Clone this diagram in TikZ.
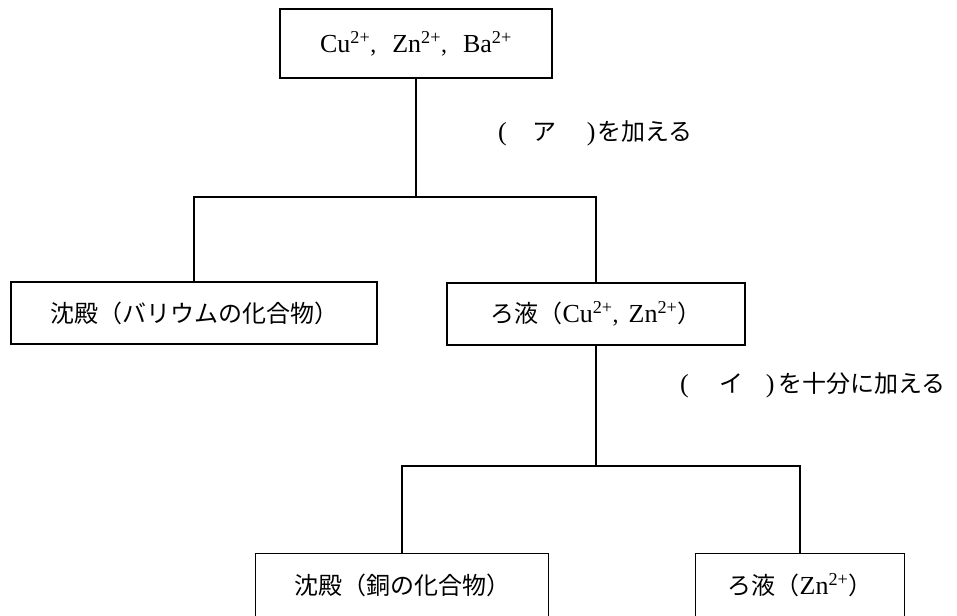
\documentclass[tikz,border=0pt]{standalone}
\usepackage{fontspec}
\setmainfont{Liberation Serif}
\newfontfamily\jpfont{Noto Sans CJK JP}
\newcommand\myjp[1]{{\jpfont #1}}
\newcommand\mylat[1]{{\fontsize{26}{30}\selectfont #1}}
\newcommand\ion[1]{\mylat{#1\textsuperscript{2+}}}
\begin{document}
\begin{tikzpicture}[x=1pt,y=-1pt,
  box/.style={draw, line width=1.3pt, inner sep=0pt, font=\fontsize{24}{30}\selectfont},
  openbox/.style={inner sep=0pt, font=\fontsize{24}{30}\selectfont},
  lbl/.style={anchor=west, inner sep=0pt, font=\fontsize{24}{30}\selectfont},
  conn/.style={line width=1.3pt}]
\useasboundingbox (0,0) rectangle (957,615);
\clip (0,0) rectangle (957,615);
\node[box, minimum width=272pt, minimum height=69pt] (top) at (416,43.5)
  {\ion{Cu},\hspace{16pt}\ion{Zn},\hspace{16pt}\ion{Ba}};
\node[box, minimum width=366pt, minimum height=62pt] (left) at (194,313)
  {\myjp{沈殿（バリウムの化合物）}};
\node[box, minimum width=298pt, minimum height=62pt] (right) at (596,314)
  {\myjp{ろ液（}\ion{Cu},\hspace{10pt}\ion{Zn}\myjp{）}};
\node[openbox, minimum width=292pt, minimum height=62pt] (bl) at (402,585)
  {\myjp{沈殿（銅の化合物）}};
\node[openbox, minimum width=208pt, minimum height=62pt] (br) at (800,585)
  {\myjp{ろ液（}\ion{Zn}\myjp{）}};
\draw[conn] ([yshift=-10pt]bl.south west) -- (bl.north west) -- (bl.north east) -- ([yshift=-10pt]bl.south east);
\draw[conn] ([yshift=-10pt]br.south west) -- (br.north west) -- (br.north east) -- ([yshift=-10pt]br.south east);
\node[lbl] (la) at (498,133)
  {\mylat{(}\hspace{26pt}\myjp{ア}\hspace{30pt}\mylat{)}\hspace{2pt}\myjp{を加える}};
\node[lbl] (lb) at (680,385)
  {\mylat{(}\hspace{31pt}\myjp{イ}\hspace{22pt}\mylat{)}\hspace{4pt}\myjp{を十分に加える}};
\coordinate (j1) at (416,197);
\coordinate (j2) at (596,466);
\draw[conn] (top.south) -- (j1);
\draw[conn] (left.north) -- (left.north |- j1) -- (right.north |- j1) -- (right.north);
\draw[conn] (right.south) -- (j2);
\draw[conn] (bl.north) -- (bl.north |- j2) -- (br.north |- j2) -- (br.north);
\end{tikzpicture}
\end{document}
